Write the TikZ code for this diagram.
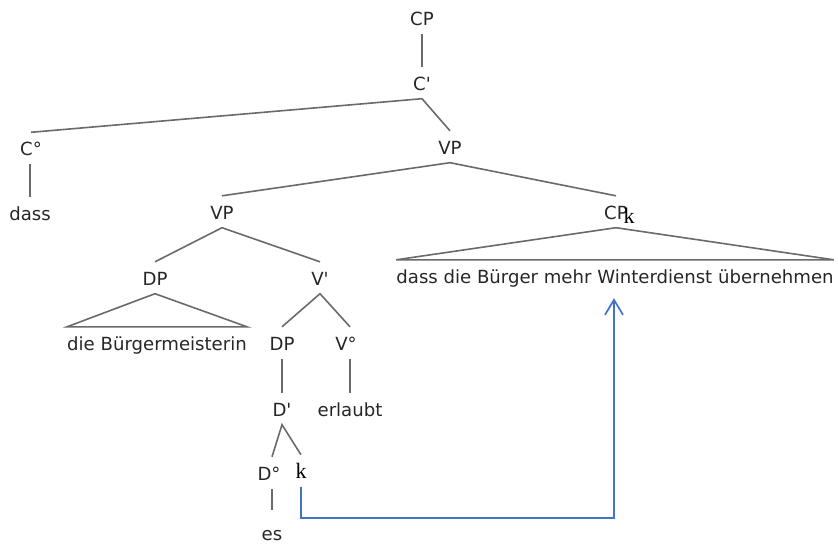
\documentclass[tikz,border=0pt]{standalone}
\usepackage{fontspec}
\setmainfont{DejaVu Sans}
\newfontfamily\idxfont{Liberation Serif}
\usetikzlibrary{arrows.meta}
\definecolor{branchgray}{HTML}{6A6A6A}
\definecolor{inkgray}{HTML}{262626}
\definecolor{movblue}{HTML}{4472C4}

\begin{document}
\begin{tikzpicture}[x=1pt,y=-1pt,
  lbl/.style={anchor=base, inner xsep=0pt, inner ysep=8.5pt,
    text height=14.5pt, text depth=0pt, text=inkgray,
    font=\fontsize{18.1}{21}\selectfont},
  idx/.style={anchor=base, inner xsep=0pt, inner ysep=8.5pt,
    text height=14.5pt, text depth=0pt, text=black,
    font=\idxfont\fontsize{22}{24}\selectfont},
  branch/.style={draw=branchgray, line width=1.6pt},
  move/.style={draw=movblue, line width=1.7pt,
    -{Straight Barb[length=15pt,width=18pt]}}
]
\useasboundingbox (0,0) rectangle (838,547);

% labels of the tree
\node[lbl] (cp)       at (422,25)    {CP};
\node[lbl] (cbar)     at (422,90)    {C\textquotesingle};
\node[lbl] (c0)       at (31,155.5)  {C°};
\node[lbl] (dass)     at (30,220)    {dass};
\node[lbl] (vp)       at (450,154)   {VP};
\node[lbl] (vp2)      at (222,219)   {VP};
\node[lbl] (cpk)      at (616,219)   {CP};
\node[idx] (cpk-k)    at (629,223)   {k};
\node[lbl] (cpk-leaf) at (615,283)   {dass die Bürger mehr Winterdienst übernehmen};
\node[lbl] (dp)       at (155,285)   {DP};
\node[lbl] (vbar)     at (320,285)   {V\textquotesingle};
\node[lbl] (dp-leaf)  at (157,350)   {die Bürgermeisterin};
\node[lbl] (dp2)      at (282,350)   {DP};
\node[lbl] (v0)       at (346,350)   {V°};
\node[lbl] (dbar)     at (282,416)   {D\textquotesingle};
\node[lbl] (erl)      at (350,416)   {erlaubt};
\node[lbl] (d0)       at (269,480)   {D°};
\node[idx] (trace)    at (301,478)   {k};
\node[lbl] (es)       at (272,540)   {es};

% branches
\draw[branch] (cp.south) -- (cbar.north);
\draw[branch] (c0.north) -- (cbar.south) -- (vp.north);
\draw[branch] (dass.north |- c0.south) -- (dass.north);
\draw[branch] (vp2.north) -- (vp.south) -- (cpk.north);
\draw[branch] (cpk-leaf.north west) -- (cpk.south) -- (cpk-leaf.north east) -- cycle;
\draw[branch] (dp.north) -- (vp2.south) -- (vbar.north);
\draw[branch] (dp-leaf.north west) -- (dp.south) -- (dp-leaf.north east) -- cycle;
\draw[branch] (dp2.north) -- (vbar.south) -- (erl.north |- v0.north);
\draw[branch] (dp2.south) -- (dbar.north);
\draw[branch] (erl.north |- v0.south) -- (erl.north);
\draw[branch] (es.north |- d0.north) -- (dbar.south) -- (trace.north);
\draw[branch, shorten >=7pt] (es.north |- d0.south) -- (es.north);

% movement arrow from the trace to the extraposed clause
\coordinate (bend) at (614,518);
\draw[move, shorten >=6.5pt] (trace.south) |- (bend) -- (bend |- cpk-leaf.south);
\end{tikzpicture}
\end{document}
